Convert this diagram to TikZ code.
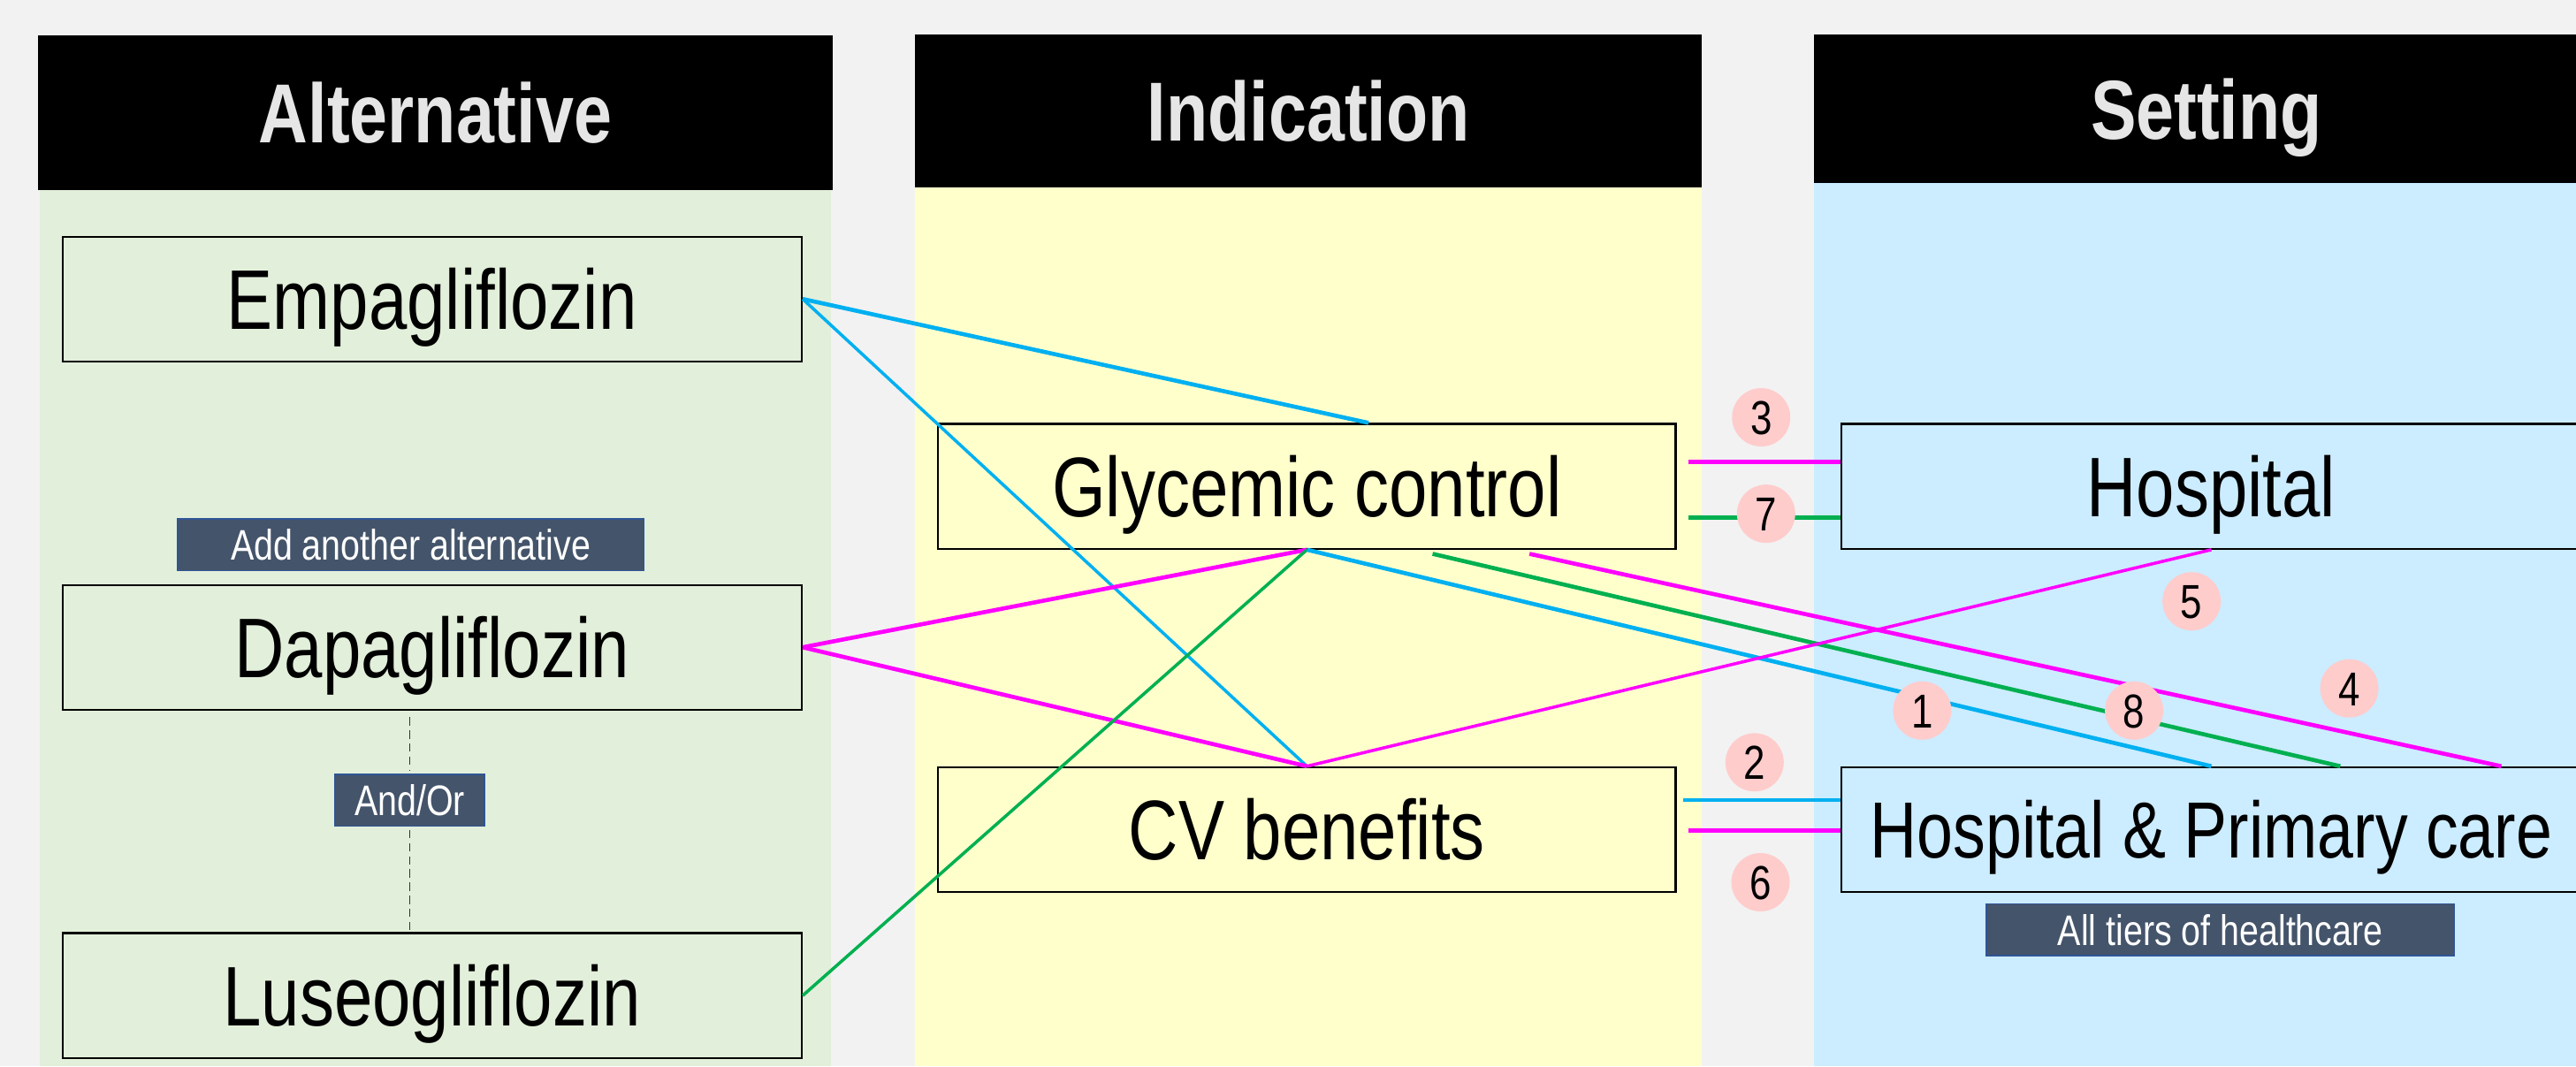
\documentclass[tikz,border=0pt]{standalone}
\usepackage{fontspec}
\setmainfont[FakeStretch=0.815]{Liberation Sans}
\usetikzlibrary{calc}
\definecolor{bgc}{HTML}{F2F2F2}
\definecolor{colgreen}{HTML}{E2EFDA}
\definecolor{colyellow}{HTML}{FFFFCC}
\definecolor{colblue}{HTML}{CCECFF}
\definecolor{hdrtext}{HTML}{E7E6E6}
\definecolor{lblfill}{HTML}{44546A}
\definecolor{lblborder}{HTML}{2F5597}
\definecolor{pinkc}{HTML}{FFCCCC}
\definecolor{cmag}{HTML}{FF00FF}
\definecolor{cblue}{HTML}{00B0F0}
\definecolor{cgreen}{HTML}{00B050}
\begin{document}
\begin{tikzpicture}[x=1pt,y=-1pt,
  hdr/.style={fill=black, inner sep=0pt, text=hdrtext, font=\fontsize{51}{60}\selectfont\bfseries, text height=36.8pt, text depth=0pt},
  itembox/.style={draw=black, line width=1.2pt, inner sep=0pt, minimum width=450pt, minimum height=76pt, font=\fontsize{51.5}{60}\selectfont, text height=37pt, text depth=0pt},
  lbl/.style={fill=lblfill, draw=lblborder, line width=0.9pt, inner sep=0pt, minimum height=31.5pt, text=white, font=\fontsize{26}{30}\selectfont, text height=18.6pt, text depth=0pt},
  numc/.style={circle, fill=pinkc, inner sep=0pt, minimum size=35.5pt, font=\fontsize{29}{32}\selectfont, text height=20.8pt, text depth=0pt},
  wideline/.style={line width=2.5pt},
  narrowline/.style={line width=1.9pt},
  dashline/.style={draw=black!80, line width=0.8pt, dash pattern=on 5pt off 3pt}
]
\useasboundingbox (0,0) rectangle (1568,649);
\fill[bgc] (0,0) rectangle (1568,649);
% column bodies
\fill[colgreen] (24,115) rectangle (506,649);
\fill[colyellow] (557,114) rectangle (1036,649);
\fill[colblue] (1104,111) rectangle (1590,649);
% headers
\node[hdr, minimum width=484pt, minimum height=94pt] (h1) at (265,68.5) {Alternative};
\node[hdr, minimum width=479pt, minimum height=93pt] (h2) at (796.5,67.5) {Indication};
\node[hdr, minimum width=478pt, minimum height=90.6pt] (h3) at (1343,66.3) {Setting};
% boxes
\node[itembox, fill=colgreen] (emp) at (263,182) {Empagliflozin};
\node[itembox, fill=colgreen] (dap) at (263,394) {Dapagliflozin};
\node[itembox, fill=colgreen] (lus) at (263,606) {Luseogliflozin};
\node[itembox, fill=colyellow, minimum width=449pt] (gly) at (795.5,296) {Glycemic control};
\node[itembox, fill=colyellow, minimum width=449pt] (cv) at (795.5,505) {CV benefits};
\node[itembox, fill=colblue] (hos) at (1346,296) {Hospital};
\node[itembox, fill=colblue, font=\fontsize{48.5}{56}\selectfont, text height=34.7pt] (hpc) at (1346,505) {Hospital \& Primary care};
% labels
\node[lbl, minimum width=284pt] (add) at (250,331.5) {Add another alternative};
\node[lbl, minimum width=91pt] (andor) at (249.5,487) {And/Or};
\node[lbl, minimum width=285pt] (tiers) at (1351.5,566) {All tiers of healthcare};
% dashed link
\draw[dashline] ($(andor.north |- dap.south)+(0,4)$) -- ($(andor.north)+(0,-2)$);
\draw[dashline] ($(andor.south)+(0,2)$) -- (andor.south |- lus.north);
% helper coordinates
\coordinate (glyT) at ($(gly.north)+(37.5,0)$);
\coordinate (glyG) at ($(gly.south)+(76.5,2.5)$);
\coordinate (glyM) at ($(gly.south)+(135.5,2.5)$);
\coordinate (hpcG) at ($(hpc.north)+(78.5,0)$);
\coordinate (hpcM) at ($(hpc.north)+(176.5,0)$);
\coordinate (g3) at ($(gly.east)+(7,-15)$);
\coordinate (g7) at ($(gly.east)+(7,19)$);
\coordinate (c2) at ($(cv.east)+(4,-18)$);
\coordinate (c6) at ($(cv.east)+(7,0.5)$);
% connectors
\draw[cblue, wideline] (emp.east) -- (glyT);
\draw[cblue, narrowline] (emp.east) -- (cv.north);
\draw[cmag, wideline] (dap.east) -- (gly.south);
\draw[cmag, wideline] (dap.east) -- (cv.north);
\draw[cgreen, narrowline] (lus.east) -- (gly.south);
\draw[cblue, wideline] (gly.south) -- (hpc.north);
\draw[cgreen, wideline] (glyG) -- (hpcG);
\draw[cmag, wideline] (glyM) -- (hpcM);
\draw[cmag, narrowline] (cv.north) -- (hos.south);
\draw[cmag, wideline] (g3) -- (g3 -| hos.west);
\draw[cgreen, wideline] (g7) -- (g7 -| hos.west);
\draw[cblue, wideline] (c2) -- (c2 -| hpc.west);
\draw[cmag, wideline] (c6) -- (c6 -| hpc.west);
% number badges
\node[numc] (n3) at (1072,254) {3};
\node[numc] (n7) at (1075,312.7) {7};
\node[numc] (n5) at (1334,366) {5};
\node[numc] (n4) at (1430,419) {4};
\node[numc] (n1) at (1170,432.5) {1};
\node[numc] (n8) at (1299,432.5) {8};
\node[numc] (n2) at (1068,464) {2};
\node[numc] (n6) at (1071.6,537) {6};
\end{tikzpicture}
\end{document}
